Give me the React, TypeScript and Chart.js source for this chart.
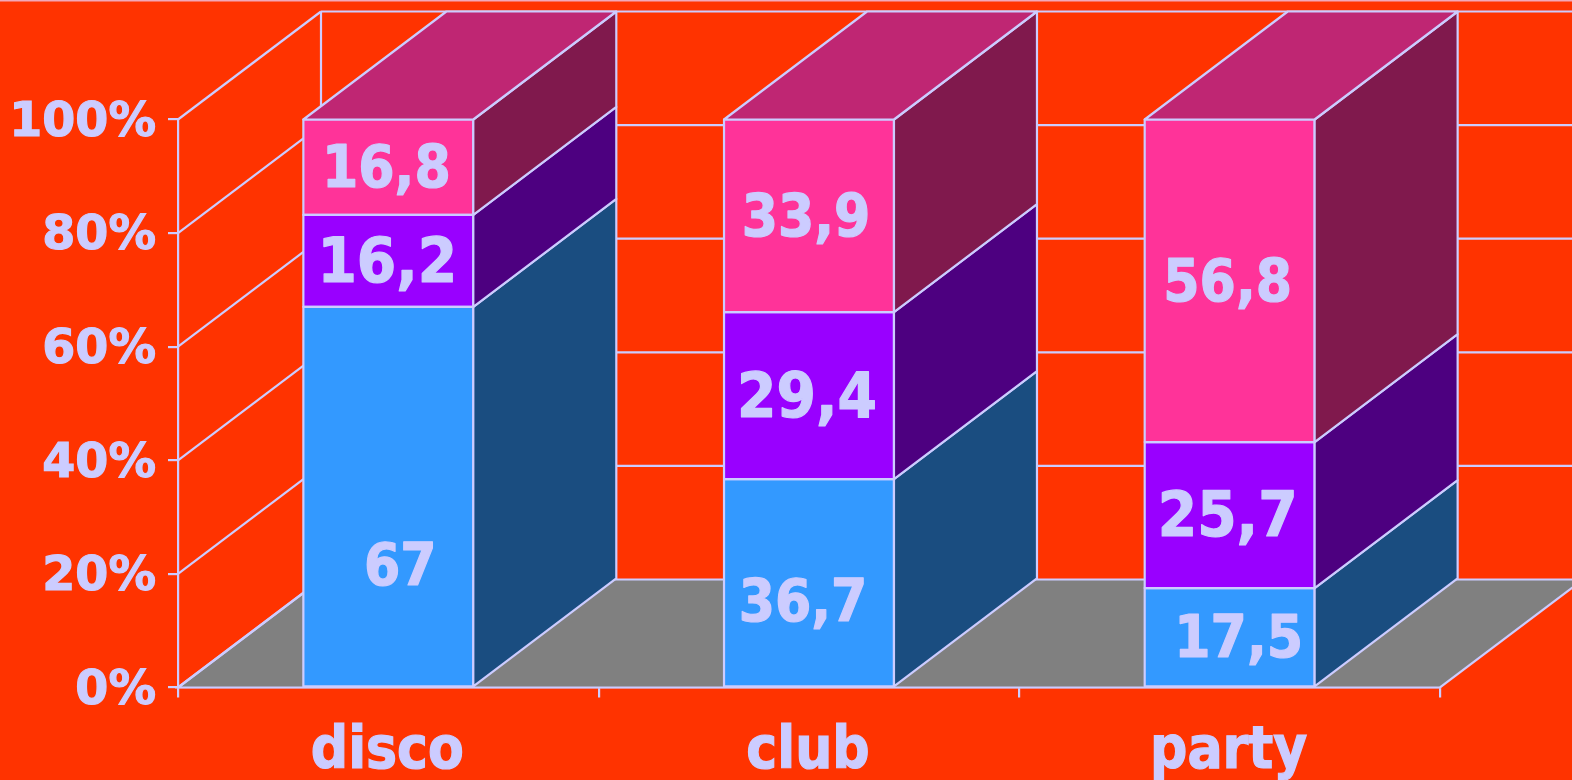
import React, { useEffect, useRef } from "react";
import { Chart, registerables } from "chart.js";

Chart.register(...registerables);

const categories = ["disco", "club", "party"];
const lowerShare = [67, 36.7, 17.5];
const middleShare = [16.2, 29.4, 25.7];
const upperShare = [16.8, 33.9, 56.8];

const BACKGROUND = "#FF3300";
const INK = "#CCCCFF";
const FRONT = ["#3399FF", "#9900FF", "#FF3399"];
const SIDE = ["#1A4D80", "#4D0080", "#80194D"];
const TOP_FACE = "#BF2673";
const FLOOR = "#808080";

// Oblique projection vector of the box depth.
const DEPTH_X = 143;
const DEPTH_Y = 108;

const LINE_W = 2.2;
const FONT_FAMILY = '"DejaVu Sans Condensed", "DejaVu Sans", sans-serif';
const AXIS_FAMILY = '"DejaVu Sans", sans-serif';

// Per-series label size; the middle series is set larger.
const LABEL_SIZE = [58, 63, 58];
const LABEL_DROP = 5;
const LABEL_HEAVY = 1.2;
// Hand-placed value labels [series][category] = pixel nudge from the segment centre.
const LABEL_NUDGE = [
  [[12, 68], [-6, 18], [9, 0]],
  [[-1, 0], [-2, 0], [-2, 0]],
  [[-2, 0], [-3, 0], [-2, 0]],
];

const formatValue = (v: number) => String(v).replace(".", ",");

const polygon = (ctx: CanvasRenderingContext2D, pts: number[][], fill?: string) => {
  ctx.beginPath();
  pts.forEach(([x, y], i) => (i ? ctx.lineTo(x, y) : ctx.moveTo(x, y)));
  ctx.closePath();
  if (fill) {
    ctx.fillStyle = fill;
    ctx.fill();
  }
  ctx.stroke();
};

const segment = (ctx: CanvasRenderingContext2D, x0: number, y0: number, x1: number, y1: number) => {
  ctx.beginPath();
  ctx.moveTo(x0, y0);
  ctx.lineTo(x1, y1);
  ctx.stroke();
};

// Side walls, back gridlines and floor sit behind the bars.
const roomPlugin = {
  id: "room",
  beforeDatasetsDraw(chart: any) {
    const { ctx, chartArea: a, scales } = chart;
    ctx.save();
    ctx.strokeStyle = INK;
    ctx.lineWidth = LINE_W;
    // Thin rule along the top edge of the page.
    ctx.save();
    ctx.strokeStyle = "#F2A8B8";
    segment(ctx, 0, 0.5, chart.width, 0.5);
    ctx.restore();
    polygon(
      ctx,
      [
        [a.left, a.bottom],
        [a.left + DEPTH_X, a.bottom - DEPTH_Y],
        [a.right + DEPTH_X, a.bottom - DEPTH_Y],
        [a.right, a.bottom],
      ],
      FLOOR
    );
    segment(ctx, a.left + DEPTH_X, a.top - DEPTH_Y, a.left + DEPTH_X, a.bottom - DEPTH_Y);
    for (const t of scales.y.ticks) {
      const y = scales.y.getPixelForValue(t.value);
      segment(ctx, a.left, y, a.left + DEPTH_X, y - DEPTH_Y);
      if (t.value > 0) segment(ctx, a.left + DEPTH_X, y - DEPTH_Y, a.right + DEPTH_X, y - DEPTH_Y);
    }
    ctx.restore();
  },
  // Front outlines, extruded side and top faces, then the value labels.
  afterDatasetsDraw(chart: any) {
    const { ctx } = chart;
    ctx.save();
    ctx.strokeStyle = INK;
    ctx.lineWidth = LINE_W;
    ctx.lineJoin = "round";
    chart.data.datasets.forEach((_: any, s: number) => {
      const bars = chart.getDatasetMeta(s).data;
      bars.forEach((bar: any) => {
        const left = bar.x - bar.width / 2;
        const right = bar.x + bar.width / 2;
        polygon(ctx, [
          [left, bar.base],
          [right, bar.base],
          [right, bar.y],
          [left, bar.y],
        ]);
        polygon(
          ctx,
          [
            [right, bar.base],
            [right + DEPTH_X, bar.base - DEPTH_Y],
            [right + DEPTH_X, bar.y - DEPTH_Y],
            [right, bar.y],
          ],
          SIDE[s]
        );
      });
    });
    const topBars = chart.getDatasetMeta(chart.data.datasets.length - 1).data;
    topBars.forEach((bar: any) => {
      const left = bar.x - bar.width / 2;
      const right = bar.x + bar.width / 2;
      polygon(
        ctx,
        [
          [left, bar.y],
          [right, bar.y],
          [right + DEPTH_X, bar.y - DEPTH_Y],
          [left + DEPTH_X, bar.y - DEPTH_Y],
        ],
        TOP_FACE
      );
    });
    ctx.fillStyle = INK;
    ctx.lineWidth = LABEL_HEAVY;
    ctx.textAlign = "center";
    ctx.textBaseline = "middle";
    chart.data.datasets.forEach((ds: any, s: number) => {
      ctx.font = `bold ${LABEL_SIZE[s]}px ${FONT_FAMILY}`;
      chart.getDatasetMeta(s).data.forEach((bar: any, i: number) => {
        const [nx, ny] = LABEL_NUDGE[s][i];
        const text = formatValue(ds.data[i]);
        const x = bar.x + nx;
        const y = (bar.y + bar.base) / 2 + ny + LABEL_DROP;
        ctx.fillText(text, x, y);
        ctx.strokeText(text, x, y);
      });
    });
    ctx.restore();
  },
};

export default function App() {
  const ref = useRef<HTMLCanvasElement>(null);
  useEffect(() => {
    document.body.style.margin = "0";
    document.body.style.background = BACKGROUND;
    const makeSeries = (data: number[], i: number) => ({
      data,
      backgroundColor: FRONT[i],
      borderWidth: 0,
      barPercentage: 0.404,
      categoryPercentage: 1,
      clip: false as const,
    });
    const chart = new Chart(ref.current!, {
      type: "bar",
      data: {
        labels: categories,
        datasets: [lowerShare, middleShare, upperShare].map(makeSeries),
      },
      plugins: [roomPlugin],
      options: {
        animation: false,
        responsive: false,
        layout: { padding: { top: 119.5, right: 132, left: 0, bottom: 0 } },
        plugins: { legend: { display: false }, tooltip: { enabled: false } },
        scales: {
          x: {
            stacked: true,
            afterFit: (scale: any) => {
              scale.height = 92.5;
            },
            grid: {
              drawOnChartArea: false,
              drawTicks: true,
              tickLength: 10,
              color: INK,
              lineWidth: LINE_W,
            },
            border: { color: INK, width: LINE_W },
            ticks: {
              color: INK,
              padding: 21,
              labelOffset: -1,
              maxRotation: 0,
              textStrokeColor: INK,
              textStrokeWidth: LABEL_HEAVY,
              font: { family: FONT_FAMILY, size: 58, weight: "bold" },
            },
          },
          y: {
            stacked: true,
            min: 0,
            max: 100,
            afterFit: (scale: any) => {
              scale.width = 178;
            },
            grid: {
              drawOnChartArea: false,
              drawTicks: true,
              tickLength: 10,
              color: INK,
              lineWidth: LINE_W,
            },
            border: { color: INK, width: LINE_W },
            ticks: {
              stepSize: 20,
              color: INK,
              padding: 12,
              labelOffset: 4,
              textStrokeColor: INK,
              textStrokeWidth: LABEL_HEAVY,
              callback: (v: any) => `${v}%`,
              font: { family: AXIS_FAMILY, size: 47.5, weight: "bold" },
            },
          },
        },
      },
    });
    return () => chart.destroy();
  }, []);
  return (
    <canvas
      ref={ref}
      width={1572}
      height={780}
      style={{ display: "block", width: 1572, height: 780, background: BACKGROUND }}
    />
  );
}
